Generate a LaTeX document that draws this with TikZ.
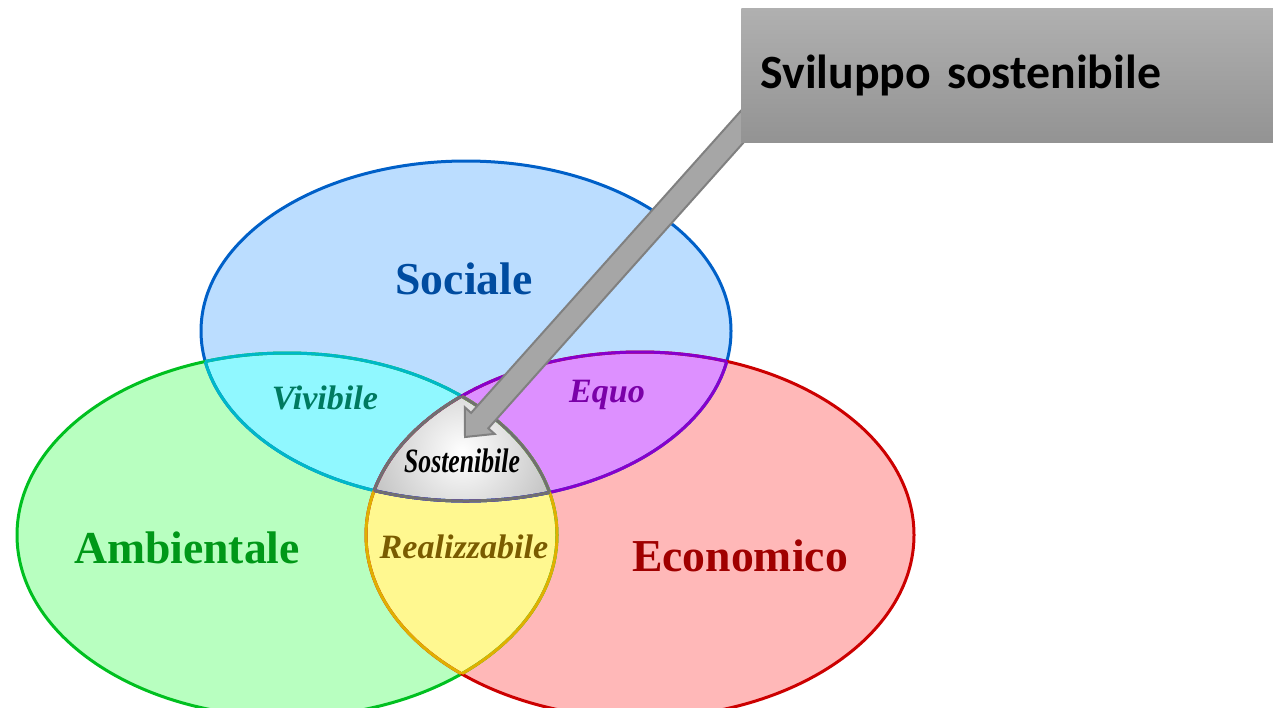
\documentclass[tikz,border=0pt]{standalone}
\usepackage{fontspec}
\setmainfont{Liberation Serif}
\newfontfamily\calibri{Carlito}
\usetikzlibrary{calc}

\definecolor{socfill}{HTML}{BBDDFF}
\definecolor{ambfill}{HTML}{B8FFC0}
\definecolor{ecofill}{HTML}{FFB8B8}
\definecolor{vivfill}{HTML}{90F8FF}
\definecolor{equfill}{HTML}{DD90FF}
\definecolor{reafill}{HTML}{FFF890}
\definecolor{socline}{HTML}{0060C8}
\definecolor{ambline}{HTML}{00C020}
\definecolor{ecoline}{HTML}{CC0000}
\definecolor{vivline}{HTML}{00B8C8}
\definecolor{equline}{HTML}{8800CC}
\definecolor{realine}{HTML}{E0B000}
\definecolor{sosline}{HTML}{707070}
\definecolor{sosgray}{HTML}{A0A0A0}
\definecolor{soctext}{HTML}{004CA0}
\definecolor{ambtext}{HTML}{009818}
\definecolor{ecotext}{HTML}{A00000}
\definecolor{vivtext}{HTML}{007A60}
\definecolor{equtext}{HTML}{7A00A8}
\definecolor{reatext}{HTML}{7A5C00}
\definecolor{arrowfill}{HTML}{A6A6A6}
\definecolor{arrowline}{HTML}{808080}
\definecolor{boxtop}{HTML}{B0B0B0}
\definecolor{boxbot}{HTML}{939393}

\tikzset{
  edge/.style={line width=0.06cm},
  bigname/.style={font=\fontsize{26}{30}\selectfont\bfseries},
  midname/.style={font=\fontsize{19.4}{22}\selectfont\bfseries\itshape},
  titlebox/.style={anchor=north west,top color=boxtop,bottom color=boxbot,
    minimum width=10.64cm,minimum height=2.68cm,text width=9.88cm,
    inner xsep=0.38cm,inner ysep=0pt,align=left,
    font=\calibri\fontsize{27.2}{32}\selectfont\bfseries}
}

\begin{document}
\begin{tikzpicture}[x=0.02cm,y=-0.02cm]
    \useasboundingbox (0,0) rectangle (1273,707);

    \def\sociale{(466,331) ellipse [x radius=265, y radius=170]}
    \def\ambiente{(287,535) ellipse [x radius=270, y radius=182]}
    \def\economia{(640,535) ellipse [x radius=274, y radius=183]}

    % the three sets
    \fill [socfill] \sociale;
    \fill [ambfill] \ambiente;
    \fill [ecofill] \economia;

    % pairwise overlaps
    \begin{scope}
      \clip \sociale;
      \fill [vivfill] \ambiente;
      \fill [equfill] \economia;
    \end{scope}
    \begin{scope}
      \clip \ambiente;
      \fill [reafill] \economia;
    \end{scope}

    % all three
    \begin{scope}
      \clip \sociale;
      \clip \ambiente;
      \clip \economia;
      \shade [inner color=white, outer color=sosgray] (462,452) circle [radius=150];
    \end{scope}

    % outlines
    \draw [edge, socline] \sociale;
    \draw [edge, ambline] \ambiente;
    \draw [edge, ecoline] \economia;

    \begin{scope}
      \clip \ambiente;
      \draw [edge, vivline] \sociale;
      \draw [edge, realine] \economia;
    \end{scope}
    \begin{scope}
      \clip \sociale;
      \draw [edge, vivline] \ambiente;
      \draw [edge, equline] \economia;
    \end{scope}
    \begin{scope}
      \clip \economia;
      \draw [edge, equline] \sociale;
      \draw [edge, realine] \ambiente;
    \end{scope}
    \begin{scope}
      \clip \economia;
      \clip \ambiente;
      \draw [edge, sosline] \sociale;
    \end{scope}
    \begin{scope}
      \clip \sociale;
      \clip \economia;
      \draw [edge, sosline] \ambiente;
    \end{scope}
    \begin{scope}
      \clip \sociale;
      \clip \ambiente;
      \draw [edge, sosline] \economia;
    \end{scope}

    % labels
    \node [bigname, soctext] (soc) at (464,279) {Sociale};
    \node [bigname, ambtext] (amb) at (187,548) {Ambientale};
    \node [bigname, ecotext] (eco) at (740,556) {Economico};
    \node [midname, vivtext] (viv) at (325,398) {Vivibile};
    \node [midname, equtext] (equ) at (607,395) {Equo};
    \node [midname, reatext] (rea) at (464,547) {Realizzabile};
    \node [midname, black, xscale=0.755] (sos) at (462,461) {Sostenibile};

    % block arrow
    \coordinate (a0) at (465,437);
    \coordinate (a1) at (494.6,433.9);
    \coordinate (a2) at (488.3,428.3);
    \coordinate (a3) at (766.6,116.7);
    \coordinate (a4) at (749.4,101.3);
    \coordinate (a5) at (471.1,412.9);
    \coordinate (a6) at (464.8,407.3);

    \draw [arrowline, fill=arrowfill, line width=0.04cm, line join=miter]
    (a0) -- (a1) -- (a2) -- (a3) -- (a4) -- (a5) -- (a6) -- cycle;

    \node [titlebox] (title) at (741,8) {Sviluppo sostenibile};
  \end{tikzpicture}
\end{document}
